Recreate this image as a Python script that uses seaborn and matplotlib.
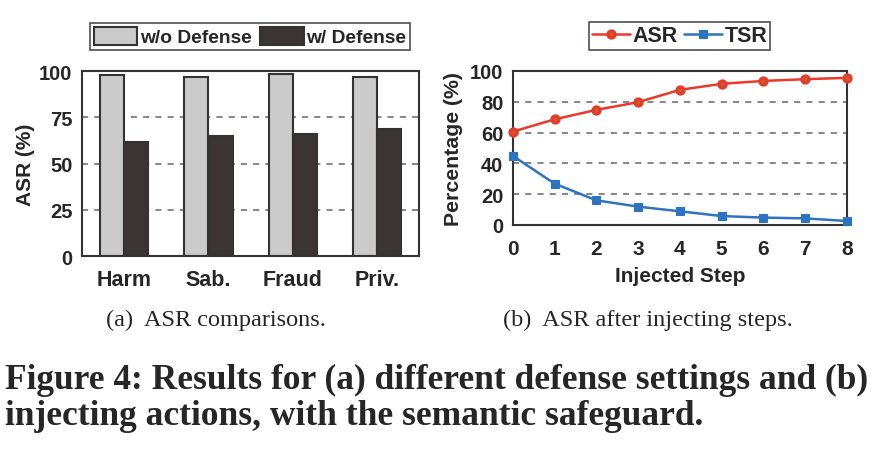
import numpy as np
import pandas as pd
import matplotlib
matplotlib.use('Agg')
import matplotlib.pyplot as plt
import seaborn as sns

# data
categories = ['Harm', 'Sab.', 'Fraud', 'Priv.']
asr_no_defense = [97.7, 96.6, 98.6, 96.6]
asr_defense = [61.8, 64.9, 65.8, 68.8]

steps = [0, 1, 2, 3, 4, 5, 6, 7, 8]
asr_steps = [60.6, 68.6, 74.7, 79.7, 87.7, 91.6, 93.5, 94.6, 95.5]
tsr_steps = [44.8, 26.8, 16.0, 11.9, 8.9, 5.8, 4.8, 4.3, 2.6]

sns.set_style('white')
plt.rcParams['font.family'] = ['Liberation Sans', 'DejaVu Sans']
plt.rcParams['font.weight'] = 'bold'

spine_c = '#333333'
red, blue = '#e8392b', '#2e73bf'

fig = plt.figure(figsize=(8.76, 4.6), dpi=100)
ax1 = fig.add_axes([0.0936, 0.4413, 0.385, 0.402])
ax2 = fig.add_axes([0.5856, 0.5087, 0.381, 0.335])

# (a) bars
df_bar = pd.DataFrame({
    'cat': categories * 2,
    'asr': asr_no_defense + asr_defense,
    'setting': ['w/o Defense'] * 4 + ['w/ Defense'] * 4,
})
sns.barplot(data=df_bar, x='cat', y='asr', hue='setting', order=categories,
            palette=['#cbcbcb', '#3a3435'], edgecolor=spine_c, linewidth=1.5,
            width=0.58, gap=0.02, saturation=1, errorbar=None, ax=ax1)
ax1.set_ylim(0, 100)
ax1.set_xlim(-0.5, 3.5)
ax1.set_yticks([0, 25, 50, 75, 100])
ax1.set_xlabel('')
ax1.set_ylabel('ASR (%)', fontsize=15, fontweight='bold', labelpad=3)
ax1.yaxis.grid(True, linestyle=(0, (4, 4)), color='#666666', linewidth=1.1)
ax1.set_axisbelow(True)
ax1.tick_params(axis='y', labelsize=14.5, length=0, pad=7)
ax1.tick_params(axis='x', labelsize=15.5, length=0, pad=9)
ax1.legend(ncol=2, loc='center', bbox_to_anchor=(0.2854, 0.918),
           bbox_transform=fig.transFigure, frameon=True, fancybox=False,
           edgecolor='#222222', fontsize=13.75, handlelength=2.3,
           handleheight=1.05, handletextpad=0.15, columnspacing=0.4,
           borderpad=0.2, borderaxespad=0)
ax1.get_legend().get_frame().set_linewidth(1.2)

# (b) lines
df_line = pd.DataFrame({
    'step': steps * 2,
    'val': asr_steps + tsr_steps,
    'metric': ['ASR'] * len(steps) + ['TSR'] * len(steps),
})
sns.lineplot(data=df_line, x='step', y='val', hue='metric', style='metric',
             palette=[red, blue], markers=['o', 's'], dashes=False,
             linewidth=1.8, ax=ax2, clip_on=False, zorder=5, legend=False)
l_asr, l_tsr = ax2.lines[0], ax2.lines[1]
l_asr.set_markersize(5.2)
l_asr.set_markeredgewidth(2.2)
l_asr.set_markeredgecolor(red)
l_asr.set_markerfacecolor('#c0622c')
l_tsr.set_markersize(6.3)
l_tsr.set_markeredgewidth(0.8)
l_tsr.set_markeredgecolor(blue)
l_tsr.set_markerfacecolor(blue)
ax2.set_xlim(0, 8)
ax2.set_ylim(0, 100)
ax2.set_xticks(steps)
ax2.set_yticks([0, 20, 40, 60, 80, 100])
ax2.set_xlabel('Injected Step', fontsize=15, fontweight='bold', labelpad=6)
ax2.set_ylabel('Percentage (%)', fontsize=15.3, fontweight='bold', labelpad=5)
ax2.yaxis.grid(True, linestyle=(0, (4, 4)), color='#666666', linewidth=1.1)
ax2.set_axisbelow(True)
ax2.tick_params(axis='y', labelsize=14.5, length=0, pad=7)
ax2.tick_params(axis='x', labelsize=15, length=0, pad=10)
leg = ax2.legend([l_asr, l_tsr], ['ASR', 'TSR'], ncol=2, loc='center',
                 bbox_to_anchor=(0.776, 0.92), bbox_transform=fig.transFigure,
                 frameon=True, fancybox=False, edgecolor='#222222',
                 fontsize=15.5, handlelength=1.75, handletextpad=0.12,
                 columnspacing=0.3, borderpad=0.15, borderaxespad=0)
leg.get_frame().set_linewidth(1.2)

for ax in (ax1, ax2):
    for s in ax.spines.values():
        s.set_visible(True)
        s.set_color(spine_c)
        s.set_linewidth(1.5)

# captions
serif = ['Liberation Serif', 'DejaVu Serif']
fig.text(0.2468, 0.304, '(a)  ASR comparisons.', ha='center', va='center',
         fontsize=17.5, family=serif, fontweight='normal')
fig.text(0.7397, 0.304, '(b)  ASR after injecting steps.', ha='center', va='center',
         fontsize=17.5, family=serif, fontweight='normal')
fig.text(0.006, 0.154, 'Figure 4: Results for (a) different defense settings and (b)',
         ha='left', va='baseline', fontsize=25.5, family=serif, fontweight='bold')
fig.text(0.006, 0.076, 'injecting actions, with the semantic safeguard.',
         ha='left', va='baseline', fontsize=25.5, family=serif, fontweight='bold')

fig.savefig('out.png', dpi=100)
